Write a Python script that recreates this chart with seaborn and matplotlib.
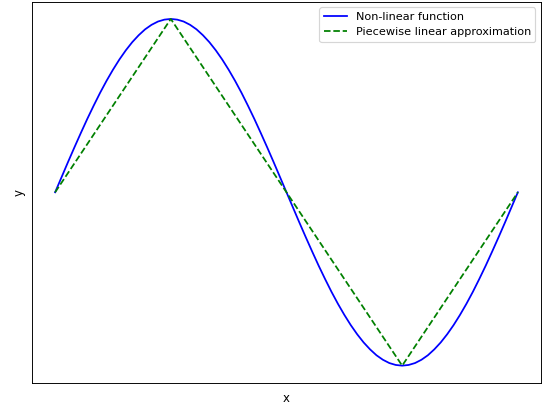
import matplotlib
matplotlib.use("Agg")
import matplotlib.pyplot as plt
import seaborn as sns
import pandas as pd

# Non-linear function samples (x in degrees, every 5 degrees)
curve_x = [0, 5, 10, 15, 20, 25, 30, 35, 40, 45, 50, 55, 60, 65, 70, 75, 80, 85,
           90, 95, 100, 105, 110, 115, 120, 125, 130, 135, 140, 145, 150, 155,
           160, 165, 170, 175, 180, 185, 190, 195, 200, 205, 210, 215, 220, 225,
           230, 235, 240, 245, 250, 255, 260, 265, 270, 275, 280, 285, 290, 295,
           300, 305, 310, 315, 320, 325, 330, 335, 340, 345, 350, 355, 360]
curve_y = [0.0, 0.087, 0.174, 0.259, 0.342, 0.423, 0.5, 0.574, 0.643, 0.707,
           0.766, 0.819, 0.866, 0.906, 0.940, 0.966, 0.985, 0.996, 1.0,
           0.996, 0.985, 0.966, 0.940, 0.906, 0.866, 0.819, 0.766, 0.707,
           0.643, 0.574, 0.5, 0.423, 0.342, 0.259, 0.174, 0.087, 0.0,
           -0.087, -0.174, -0.259, -0.342, -0.423, -0.5, -0.574, -0.643, -0.707,
           -0.766, -0.819, -0.866, -0.906, -0.940, -0.966, -0.985, -0.996, -1.0,
           -0.996, -0.985, -0.966, -0.940, -0.906, -0.866, -0.819, -0.766, -0.707,
           -0.643, -0.574, -0.5, -0.423, -0.342, -0.259, -0.174, -0.087, 0.0]

# Piecewise linear approximation breakpoints
approx_x = [0, 90, 180, 270, 360]
approx_y = [0.0, 1.0, 0.0, -1.0, 0.0]

curve_df = pd.DataFrame({"x": curve_x, "y": curve_y})
approx_df = pd.DataFrame({"x": approx_x, "y": approx_y})

fig = plt.figure(figsize=(6.4, 4.77), dpi=84.7)
ax = fig.add_axes([0.059, 0.052, 0.939, 0.944])

sns.lineplot(data=curve_df, x="x", y="y", ax=ax, color="blue", linewidth=1.5,
             label="Non-linear function", sort=False)
sns.lineplot(data=approx_df, x="x", y="y", ax=ax, color="green", linewidth=1.5,
             linestyle="--", label="Piecewise linear approximation", sort=False)

ax.set_xticks([])
ax.set_yticks([])
ax.set_xlabel("x", labelpad=7.5)
ax.set_ylabel("y", labelpad=5)
ax.legend(loc="upper right", fontsize=9.6)

fig.savefig("out.png", dpi=84.7)
